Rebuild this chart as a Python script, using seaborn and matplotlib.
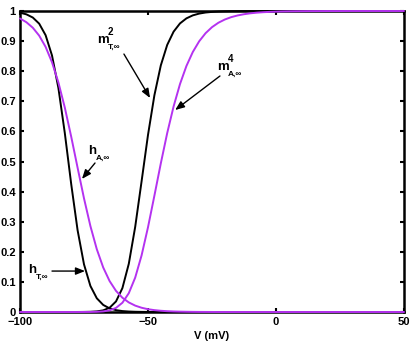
import matplotlib
matplotlib.use("Agg")
import matplotlib.pyplot as plt
import numpy as np
import pandas as pd
import seaborn as sns

# ---------------- data ----------------
V = [-100, -97.5, -95, -92.5, -90, -87.5, -85, -82.5, -80, -77.5,
     -75, -72.5, -70, -67.5, -65, -62.5, -60, -57.5, -55, -52.5,
     -50, -47.5, -45, -42.5, -40, -37.5, -35, -32.5, -30, -27.5,
     -25, -22.5, -20, -17.5, -15, -12.5, -10, -7.5, -5, -2.5,
     0, 2.5, 5, 7.5, 10, 12.5, 15, 17.5, 20, 22.5,
     25, 27.5, 30, 32.5, 35, 37.5, 40, 42.5, 45, 47.5, 50]

hT = [0.9944, 0.9889, 0.9783, 0.9579, 0.9197, 0.8523, 0.7443, 0.5947, 0.4252, 0.2716,
      0.1583, 0.0866, 0.0456, 0.0235, 0.0120, 0.0061, 0.0031, 0.0016, 0.0008, 0.0004,
      0.0002, 0.0001, 0.0, 0.0, 0.0, 0.0, 0.0, 0.0, 0.0, 0.0,
      0.0, 0.0, 0.0, 0.0, 0.0, 0.0, 0.0, 0.0, 0.0, 0.0,
      0.0, 0.0, 0.0, 0.0, 0.0, 0.0, 0.0, 0.0, 0.0, 0.0,
      0.0, 0.0, 0.0, 0.0, 0.0, 0.0, 0.0, 0.0, 0.0, 0.0, 0.0]

hA = [0.9751, 0.9627, 0.9444, 0.9181, 0.8808, 0.8297, 0.7625, 0.6792, 0.5826, 0.4792,
      0.3775, 0.2856, 0.2086, 0.1480, 0.1028, 0.0702, 0.0474, 0.0318, 0.0212, 0.0141,
      0.0093, 0.0062, 0.0041, 0.0027, 0.0018, 0.0012, 0.0008, 0.0005, 0.0003, 0.0002,
      0.0001, 0.0, 0.0, 0.0, 0.0, 0.0, 0.0, 0.0, 0.0, 0.0,
      0.0, 0.0, 0.0, 0.0, 0.0, 0.0, 0.0, 0.0, 0.0, 0.0,
      0.0, 0.0, 0.0, 0.0, 0.0, 0.0, 0.0, 0.0, 0.0, 0.0, 0.0]

mT2 = [0.0, 0.0, 0.0, 0.0, 0.0, 0.0, 0.0, 0.0, 0.0, 0.0001,
       0.0003, 0.0007, 0.0020, 0.0054, 0.0142, 0.0351, 0.0793, 0.1602, 0.2829, 0.4345,
       0.5883, 0.7201, 0.8192, 0.8873, 0.9314, 0.9588, 0.9755, 0.9855, 0.9914, 0.9950,
       0.9970, 0.9983, 0.9990, 0.9994, 0.9996, 0.9998, 0.9999, 0.9999, 1.0, 1.0,
       1.0, 1.0, 1.0, 1.0, 1.0, 1.0, 1.0, 1.0, 1.0, 1.0,
       1.0, 1.0, 1.0, 1.0, 1.0, 1.0, 1.0, 1.0, 1.0, 1.0, 1.0]

mA4 = [0.0, 0.0, 0.0, 0.0, 0.0, 0.0, 0.0, 0.0, 0.0, 0.0,
       0.0001, 0.0002, 0.0007, 0.0020, 0.0054, 0.0136, 0.0307, 0.0625, 0.1143, 0.1883,
       0.2816, 0.3865, 0.4936, 0.5943, 0.6830, 0.7573, 0.8171, 0.8638, 0.8995, 0.9264,
       0.9463, 0.9610, 0.9717, 0.9796, 0.9852, 0.9893, 0.9923, 0.9945, 0.9960, 0.9971,
       0.9979, 0.9985, 0.9989, 0.9992, 0.9994, 0.9996, 0.9997, 0.9998, 0.9999, 0.9999,
       0.9999, 1.0, 1.0, 1.0, 1.0, 1.0, 1.0, 1.0, 1.0, 1.0, 1.0]

curves = ["mT2", "hT", "mA4", "hA"]
xticks = [-100, -50, 0, 50]
xticklabels = ["\u2212100", "\u221250", "0", "50"]
yticks = [0, 0.1, 0.2, 0.3, 0.4, 0.5, 0.6, 0.7, 0.8, 0.9, 1]
yticklabels = ["0", "0.1", "0.2", "0.3", "0.4", "0.5", "0.6", "0.7", "0.8", "0.9", "1"]
xlabel = "V (mV)"

BLACK = "#000000"
PURPLE = "#B432F0"

# ---------------- style ----------------
sns.set_theme(style="white")
plt.rcParams["font.family"] = ["Liberation Sans", "DejaVu Sans"]
plt.rcParams["font.weight"] = "bold"
plt.rcParams["axes.unicode_minus"] = True

fig = plt.figure(figsize=(4.15, 3.46), dpi=100)
ax = fig.add_axes([20 / 415, 34 / 346, 384 / 415, 301 / 346])

df = pd.DataFrame({
    "V": V * 4,
    "value": mT2 + hT + mA4 + hA,
    "curve": sum([[c] * len(V) for c in curves], []),
})
sns.lineplot(data=df, x="V", y="value", hue="curve", hue_order=curves,
             palette={"mT2": BLACK, "hT": BLACK, "mA4": PURPLE, "hA": PURPLE},
             legend=False, lw=1.4, errorbar=None, ax=ax, clip_on=False, zorder=3,
             solid_joinstyle="round")

ax.set_xlim(-100, 50)
ax.set_ylim(0, 1)
ax.set_xticks(xticks, xticklabels, fontsize=8, fontweight="bold")
ax.set_yticks(yticks, yticklabels, fontsize=8, fontweight="bold")
ax.tick_params(direction="in", length=3, width=1.5, colors="black",
               bottom=True, left=True, top=True, right=True,
               labeltop=False, labelright=False)
ax.tick_params(axis="x", pad=3.5)
ax.tick_params(axis="y", pad=3)
for s in ax.spines.values():
    s.set_visible(True)
    s.set_color("black")
    s.set_linewidth(1.8)
ax.set_xlabel(xlabel, fontsize=8, fontweight="bold", labelpad=3, color="black")
ax.set_ylabel("")

# ---------------- annotations ----------------
def label(x, y, main, sup, sub, wmain):
    kw = dict(fontweight="bold", color="black", va="baseline", ha="left")
    ax.text(x, y, main, fontsize=9.5, **kw)
    if sup:
        ax.annotate(sup, xy=(x, y), xytext=(wmain, 5.5), textcoords="offset points",
                    fontsize=7, **kw)
    ax.annotate(sub, xy=(x, y), xytext=(wmain, -4), textcoords="offset points",
                fontsize=6, **kw)

def arrow(tail, tip):
    ax.annotate("", xy=tip, xytext=tail,
                arrowprops=dict(arrowstyle="-|>,head_length=0.55,head_width=0.22",
                                color="black", lw=1.0, mutation_scale=10,
                                shrinkA=0, shrinkB=0))

label(-69.9, 0.894, "m", "2", "T,\u221e", 7.6)
arrow((-59.4, 0.857), (-49.2, 0.711))

label(-23.0, 0.804, "m", "4", "A,\u221e", 7.6)
arrow((-21.9, 0.784), (-39.4, 0.671))

label(-73.4, 0.525, "h", None, "A,\u221e", 5.4)
arrow((-70.7, 0.495), (-75.8, 0.442))

label(-96.9, 0.130, "h", None, "T,\u221e", 5.4)
arrow((-87.5, 0.136), (-74.6, 0.136))

fig.savefig("out.png", dpi=100)
